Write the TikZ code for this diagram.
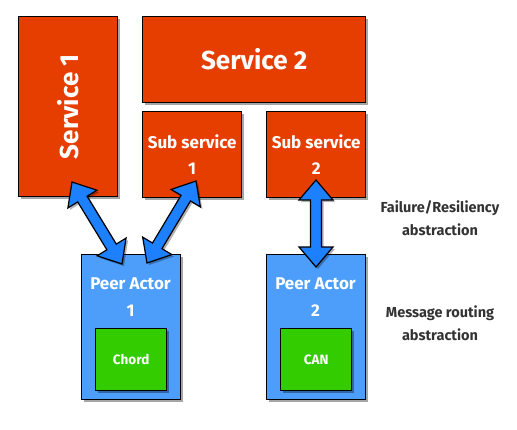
\documentclass[tikz,border=0pt]{standalone}
\usepackage{fontspec}
\setmainfont{Fira Sans}
\usetikzlibrary{calc,shadows}
\definecolor{svc}{HTML}{E63D00}
\definecolor{peer}{HTML}{4C9EFA}
\definecolor{algo}{HTML}{33CC00}
\definecolor{arr}{HTML}{1C80FF}
\newcommand{\biarrow}[2]{%
 \coordinate (#1-h) at ($(#1)!20pt!(#2)$);
 \coordinate (#2-h) at ($(#2)!20pt!(#1)$);
 \draw[arrowshape] (#1) -- ($(#1-h)!17pt!90:(#2)$) -- ($(#1-h)!5.5pt!90:(#2)$)
   -- ($(#2-h)!5.5pt!-90:(#1)$) -- ($(#2-h)!17pt!-90:(#1)$) -- (#2)
   -- ($(#2-h)!17pt!90:(#1)$) -- ($(#2-h)!5.5pt!90:(#1)$)
   -- ($(#1-h)!5.5pt!-90:(#2)$) -- ($(#1-h)!17pt!-90:(#2)$) -- cycle;}
\tikzset{
  box/.style={draw=black, line width=1.3pt, inner sep=0pt, anchor=north west,
    text=white, font=\bfseries, align=center,
    drop shadow={shadow xshift=2.5pt, shadow yshift=-2.5pt, opacity=0.35, fill=black}},
  svcbox/.style={box, fill=svc},
  peerbox/.style={box, fill=peer},
  algobox/.style={box, fill=algo},
  arrowshape/.style={draw=black, line width=1.2pt, fill=arr, line join=miter,
    drop shadow={shadow xshift=2pt, shadow yshift=-2pt, opacity=0.3, fill=black}},
  note/.style={font=\bfseries\fontsize{14.5}{23}\selectfont, text=black!80, align=center}
}
\begin{document}
\begin{tikzpicture}[x=1pt,y=-1pt]
\useasboundingbox (0,0) rectangle (517,429);
% services
\node[svcbox, minimum width=99pt, minimum height=180pt] (s1) at (18,16) {};
\node[text=white, font=\bfseries\fontsize{26}{30}\selectfont, rotate=90] (s1t) at (s1.center) {Service 1};
\node[svcbox, minimum width=223pt, minimum height=86pt] (s2) at (142,16) {};
\node[text=white, font=\bfseries\fontsize{26}{30}\selectfont] (s2t) at (s2.center) {Service 2};
\node[svcbox, minimum width=99pt, minimum height=86pt, font=\bfseries\fontsize{17}{26}\selectfont] (ss1) at (142,111) {Sub service\\1};
\node[svcbox, minimum width=99pt, minimum height=86pt, font=\bfseries\fontsize{17}{26}\selectfont] (ss2) at (266,111) {Sub service\\2};
% peers
\node[peerbox, minimum width=99pt, minimum height=145pt] (p1) at (81,254) {};
\node[text=white, font=\bfseries\fontsize{17}{27}\selectfont, align=center] (p1t) at (130.5,297.5) {Peer Actor\\1};
\node[peerbox, minimum width=99pt, minimum height=145pt] (p2) at (266,254) {};
\node[text=white, font=\bfseries\fontsize{17}{27}\selectfont, align=center] (p2t) at (315.5,297.5) {Peer Actor\\2};
\node[algobox, minimum width=71pt, minimum height=62pt, font=\bfseries\fontsize{13.5}{16}\selectfont] (chord) at (95,328) {Chord};
\node[algobox, minimum width=71pt, minimum height=62pt, font=\bfseries\fontsize{13.5}{16}\selectfont] (can) at (280,328) {CAN};
% notes
\node[note] (n1) at (440,218.5) {Failure/Resiliency\\abstraction};
\node[note] (n2) at (440,323) {Message routing\\abstraction};
% arrows
\coordinate (a1t) at (72,182);
\coordinate (a1b) at (122,264);
\coordinate (a2t) at (196,181);
\coordinate (a2b) at (147,263);
\coordinate (a3t) at (316,180);
\coordinate (a3b) at (316,267);
\biarrow{a1t}{a1b}
\biarrow{a2t}{a2b}
\biarrow{a3t}{a3b}
\end{tikzpicture}
\end{document}
